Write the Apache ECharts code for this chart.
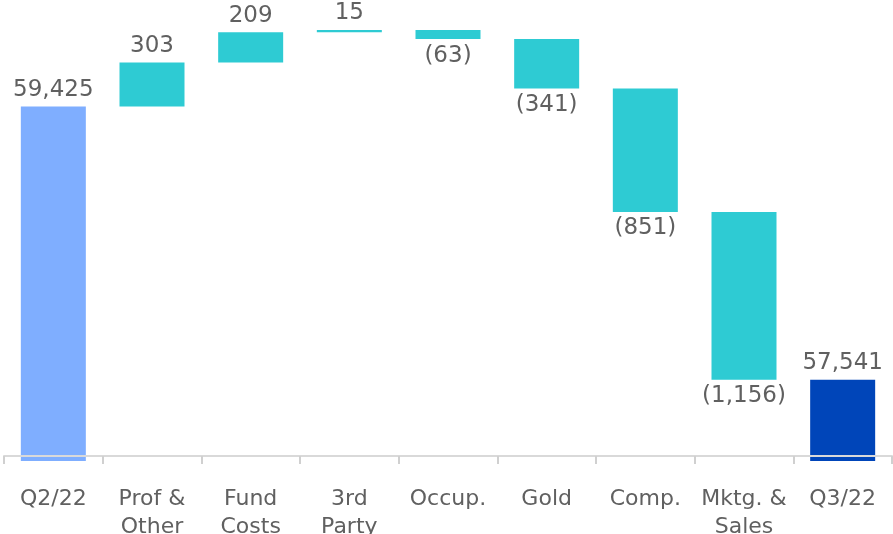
<!DOCTYPE html>
<html><head><meta charset="utf-8">
<script src="https://cdn.jsdelivr.net/npm/echarts@6/dist/echarts.min.js"></script>
<style>html,body{margin:0;padding:0;background:#fff}#c{width:893px;height:534px}</style>
</head><body><div id="c"></div>
<script>
var categories = ['Q2/22', 'Prof &\nOther', 'Fund\nCosts', '3rd\nParty', 'Occup.', 'Gold', 'Comp.', 'Mktg. &\nSales', 'Q3/22'];
var startValue = 59425;
var changes = [303, 209, 15, -63, -341, -851, -1156];
var endValue = 57541;
var colorStart = '#7FAEFF', colorStep = '#2ECBD3', colorEnd = '#0045B9';

function fmt(v) {
  var s = Math.abs(v).toLocaleString('en-US');
  return (v < 0) ? '(' + s + ')' : s;
}

var baseData = [], barData = [];
baseData.push(0);
barData.push({value: startValue, itemStyle: {color: colorStart}, label: {position: 'top', formatter: fmt(startValue)}});
var running = startValue;
changes.forEach(function (c) {
  var next = running + c;
  baseData.push(Math.min(running, next));
  barData.push({value: Math.abs(c), itemStyle: {color: colorStep},
    label: {position: c >= 0 ? 'top' : 'bottom', formatter: fmt(c)}});
  running = next;
});
baseData.push(0);
barData.push({value: endValue, itemStyle: {color: colorEnd}, label: {position: 'top', formatter: fmt(endValue)}});

var chart = echarts.init(document.getElementById('c'));
chart.setOption({
  animation: false,
  grid: {left: 4, right: 1, top: 23, bottom: 73, outerBoundsMode: 'none', containLabel: false},
  xAxis: {
    type: 'category', data: categories, offset: -5, z: 5,
    axisLine: {lineStyle: {color: '#d9d9d9', width: 2}},
    axisTick: {show: true, length: 8, lineStyle: {color: '#d0d0d0', width: 2}},
    axisLabel: {color: '#606060', fontSize: 22, fontFamily: 'DejaVu Sans', lineHeight: 28, margin: 29, interval: 0}
  },
  yAxis: {type: 'value', min: 56980, max: 60000, show: false, splitLine: {show: false}},
  series: [
    {type: 'bar', stack: 'w', data: baseData, itemStyle: {color: 'transparent'}, barWidth: 65, silent: true},
    {type: 'bar', stack: 'w', data: barData, barWidth: 65,
     label: {show: true, color: '#606060', fontSize: 23, fontFamily: 'DejaVu Sans', distance: 5}}
  ]
});
</script></body></html>
